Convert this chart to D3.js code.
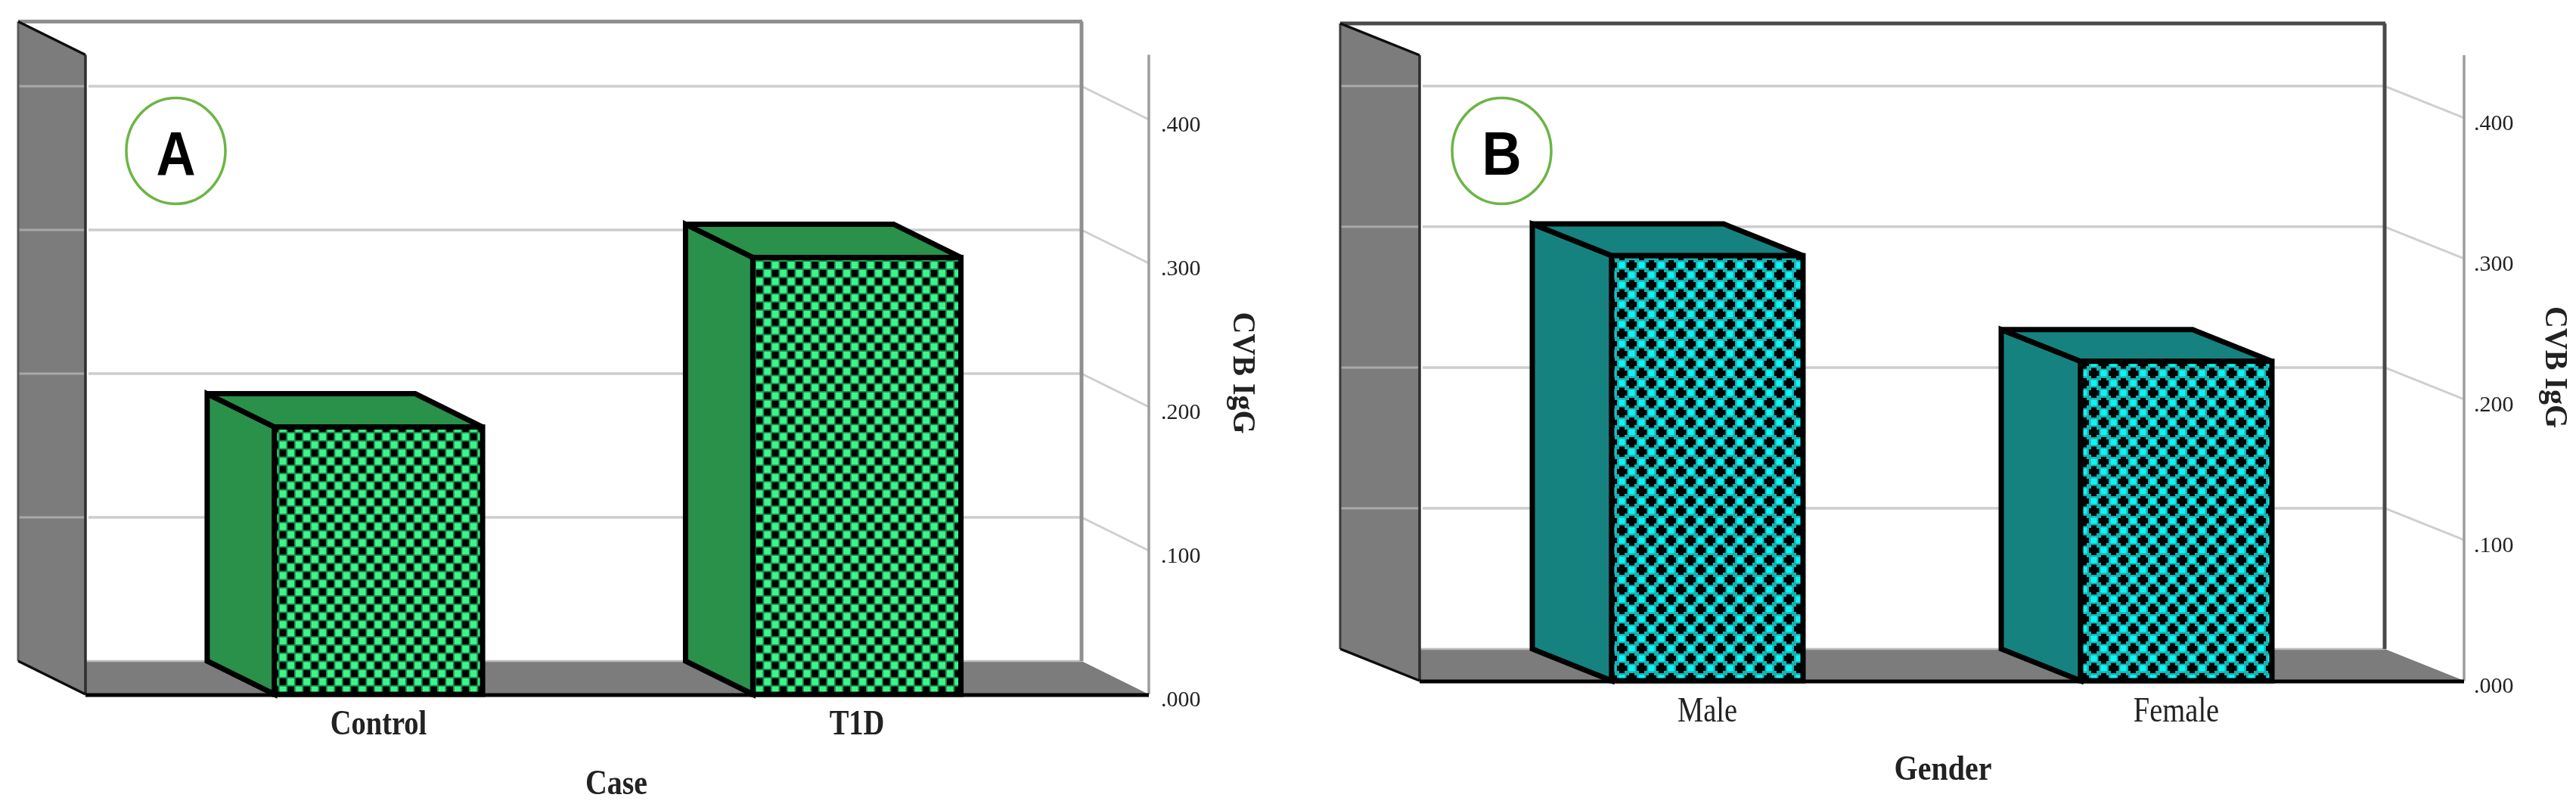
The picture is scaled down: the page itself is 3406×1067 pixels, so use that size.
<!DOCTYPE html>
<html>
<head>
<meta charset="utf-8">
<script src="https://cdn.jsdelivr.net/npm/d3@7"></script>
<style>html,body{margin:0;padding:0;background:#fff;overflow:hidden}svg{display:block}</style>
</head>
<body>
<script>
const caseCategories = ["Control", "T1D"];
const caseValues = [0.186, 0.304];
const genderCategories = ["Male", "Female"];
const genderValues = [0.302, 0.227];
const tickValues = [0, 0.1, 0.2, 0.3, 0.4];
const tickLabels = [".000", ".100", ".200", ".300", ".400"];
const yTitle = "CVB IgG";

const W = 3406, H = 1067;
const serif = "'Liberation Serif','Times New Roman',serif";
const svg = d3.select("body").append("svg").attr("width", W).attr("height", H);
const defs = svg.append("defs");
defs.append("filter").attr("id", "soft").attr("x", 0).attr("y", 0).attr("width", 1).attr("height", 1)
  .attr("filterUnits", "objectBoundingBox")
  .append("feGaussianBlur").attr("stdDeviation", 0.7);

// checker pattern for panel A
const pa = defs.append("pattern").attr("id", "checker").attr("patternUnits", "userSpaceOnUse")
  .attr("x", 369).attr("y", 572).attr("width", 21).attr("height", 21.6);
pa.append("rect").attr("width", 21).attr("height", 21.6).attr("fill", "#1c8c4e");
[[0.8, 0.9, "#000"], [11.3, 11.7, "#000"]].forEach(d =>
  pa.append("rect").attr("x", d[0]).attr("y", d[1]).attr("width", 8.6).attr("height", 9).attr("fill", d[2]));
[[11.3, 0.9, "#3df58c"], [0.8, 11.7, "#3df58c"]].forEach(d =>
  pa.append("rect").attr("x", d[0]).attr("y", d[1]).attr("width", 8.6).attr("height", 9).attr("fill", d[2]));

// lattice pattern for panel B
const pb = defs.append("pattern").attr("id", "lattice").attr("patternUnits", "userSpaceOnUse")
  .attr("x", 2138).attr("y", 344).attr("width", 26).attr("height", 26);
pb.append("rect").attr("width", 26).attr("height", 26).attr("fill", "#14b2b2");
[[19.5, 6.5], [6.5, 19.5]].forEach(c => {
  pb.append("rect").attr("x", c[0] - 7).attr("y", c[1] - 3.5).attr("width", 14).attr("height", 7).attr("fill", "#000");
  pb.append("rect").attr("x", c[0] - 3.5).attr("y", c[1] - 7).attr("width", 7).attr("height", 14).attr("fill", "#000");
});
[[6.5, 6.5], [19.5, 19.5]].forEach(c =>
  pb.append("rect").attr("x", c[0] - 4).attr("y", c[1] - 4).attr("width", 8).attr("height", 8).attr("fill", "#10f4f4"));

const root = svg.append("g").attr("filter", "url(#soft)");
root.append("rect").attr("width", W).attr("height", H).attr("fill", "#fff");

function panel(o) {
  const g = root.append("g");
  const line = (x1, y1, x2, y2, stroke, sw) => g.append("line")
    .attr("x1", x1).attr("y1", y1).attr("x2", x2).attr("y2", y2)
    .attr("stroke", stroke).attr("stroke-width", sw);
  const poly = (pts, fill) => g.append("polygon").attr("points", pts.map(p => p.join(",")).join(" ")).attr("fill", fill);

  const y = d3.scaleLinear().domain([0, o.yMax]).range([o.y0, o.yTop]);
  const x = d3.scaleBand().domain(o.categories).range(o.bandRange)
    .paddingInner(o.pad).paddingOuter(o.pad / 2);
  const back = v => y(v) - o.dy;

  // left wall and floor
  poly([[o.xl, back(o.yMax)], [o.xl + o.dx, y(o.yMax)], [o.xl + o.dx, y(0)], [o.xl, back(0)]], "#7b7b7b");
  poly([[o.xl, back(0)], [o.xr, back(0)], [o.xr + o.dx, y(0)], [o.xl + o.dx, y(0)]], "#7b7b7b");

  // gridlines and side ticks
  tickValues.forEach(t => {
    if (t > 0) {
      line(o.xl + o.dx + 4, back(t), o.xr, back(t), "#cdcdcd", 3.5);
      line(o.xl, back(t), o.xl + o.dx, back(t), "#a9a9a9", 3);
      line(o.xr, back(t), o.xr + o.dx, y(t), "#cfcfcf", 3);
    }
  });
  line(o.xl + o.dx, back(0), o.xr, back(0), "#bdbdbd", 2.5);

  // wall edges and frame
  line(o.xl, back(o.yMax), o.xr + 1, back(o.yMax), o.frame, 5);
  line(o.xl, back(o.yMax), o.xl, back(0), o.wallEdge, 3);
  line(o.xl + o.dx, y(o.yMax), o.xl + o.dx, y(0), "#2e2e2e", 3.5);
  line(o.xl, back(o.yMax), o.xl + o.dx, y(o.yMax), "#111", 3.5);
  line(o.xl, back(0), o.xl + o.dx, y(0), "#111", 3.5);
  line(o.xr, back(o.yMax), o.xr, back(0), o.frame, 5);
  line(o.xr + o.dx, y(o.yMax), o.xr + o.dx, y(0), "#9c9c9c", 3.5);
  line(o.xl + o.dx, y(0) + 1, o.xr + o.dx, y(0) + 1, "#000", 5);

  // bars
  const bars = g.selectAll(".bar").data(o.values).join("g").attr("class", "bar");
  bars.each(function (v, i) {
    const b = d3.select(this);
    const x0 = x(o.categories[i]), x1 = x0 + x.bandwidth();
    const pts = arr => arr.map(p => p.join(",")).join(" ");
    const style = s => s.attr("stroke", "#000").attr("stroke-width", 7).attr("stroke-linejoin", "miter");
    style(b.append("polygon").attr("fill", o.side)
      .attr("points", pts([[x0 - o.dx, back(v)], [x0, y(v)], [x0, y(0)], [x0 - o.dx, back(0)]])));
    style(b.append("polygon").attr("fill", o.side)
      .attr("points", pts([[x0 - o.dx, back(v)], [x1 - o.dx, back(v)], [x1, y(v)], [x0, y(v)]])));
    style(b.append("rect").attr("fill", `url(#${o.pattern})`)
      .attr("x", x0).attr("y", y(v)).attr("width", x.bandwidth()).attr("height", y(0) - y(v)));
  });

  // value axis labels (library axis)
  const axis = d3.axisRight(y).tickValues(tickValues).tickSize(0).tickPadding(0)
    .tickFormat((d, i) => tickLabels[i]);
  const ag = g.append("g").attr("transform", `translate(${o.tickX},0)`).call(axis);
  ag.select(".domain").remove();
  ag.selectAll("text").attr("font-family", serif).attr("font-size", 30).attr("fill", "#222")
    .attr("x", 0).attr("dy", 15.5).attr("text-anchor", "start");

  // category labels
  o.categories.forEach(c => {
    g.append("text").attr("text-anchor", "middle").attr("font-family", serif)
      .attr("font-size", 38.5).attr("font-weight", o.catWeight).attr("fill", "#222")
      .attr("transform", `translate(${x(c) + x.bandwidth() / 2},${o.catY}) scale(1,1.2)`).text(c);
  });
  // x title
  g.append("text").attr("text-anchor", "middle").attr("font-family", serif)
    .attr("font-size", 40).attr("font-weight", 700).attr("fill", "#222")
    .attr("transform", `translate(${o.titleX},${o.titleY}) scale(1,1.15)`).text(o.title);
  // y title
  g.append("text").attr("text-anchor", "middle").attr("font-family", serif)
    .attr("font-size", 40).attr("font-weight", 700).attr("fill", "#222")
    .attr("transform", `translate(${o.yTitleX},${o.yTitleY}) rotate(90) scale(1,1.05)`).text(yTitle);

  // panel badge
  g.append("ellipse").attr("cx", o.badgeX).attr("cy", 199.5).attr("rx", 65.5).attr("ry", 70)
    .attr("fill", "#fff").attr("stroke", "#6cb545").attr("stroke-width", 3.5);
  g.append("text").attr("text-anchor", "middle")
    .attr("font-family", "'Liberation Sans',Arial,sans-serif").attr("font-weight", 700)
    .attr("font-size", 82).attr("fill", "#000")
    .attr("transform", `translate(${o.badgeX},231) scale(0.88,1)`).text(o.badge);
}

panel({
  categories: caseCategories, values: caseValues, yMax: 0.445, y0: 918, yTop: 72.5, dx: 89, dy: 44,
  xl: 24, xr: 1430, bandRange: [184.25, 1449.25], pad: 0.565, side: "#2a914c", pattern: "checker",
  frame: "#8f8f8f", wallEdge: "#5a5a5a", tickX: 1535, catY: 971, catWeight: 700,
  title: "Case", titleX: 815, titleY: 1050, yTitleX: 1631, yTitleY: 493, badge: "A", badgeX: 232.5
});
panel({
  categories: genderCategories, values: genderValues, yMax: 0.4445, y0: 900, yTop: 73, dx: 105, dy: 42,
  xl: 1772, xr: 3153, bandRange: [1947.5, 3187.5], pad: 0.592, side: "#14827f", pattern: "lattice",
  frame: "#4a4a4a", wallEdge: "#3a3a3a", tickX: 3271, catY: 953.5, catWeight: 400,
  title: "Gender", titleX: 2569, titleY: 1031, yTitleX: 3366, yTitleY: 485.5, badge: "B", badgeX: 1985.5
});
</script>
</body>
</html>
